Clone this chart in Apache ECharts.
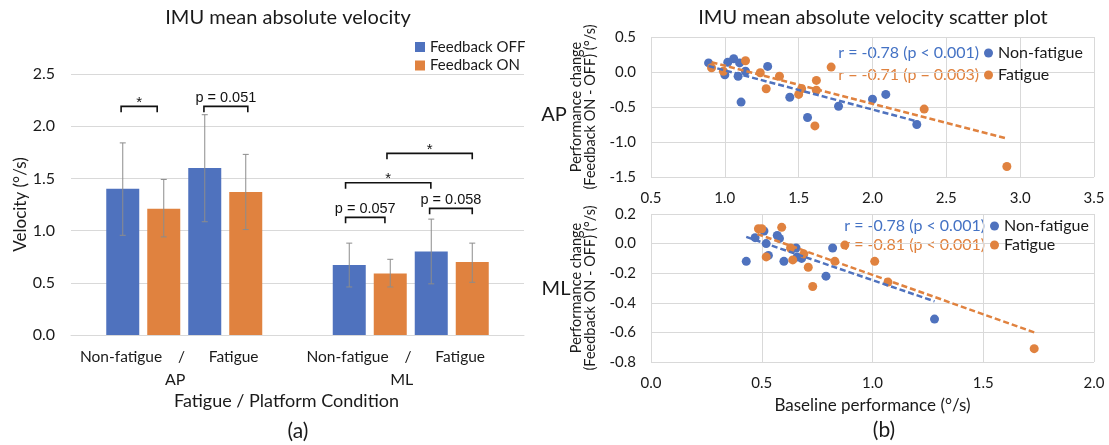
<!DOCTYPE html>
<html><head><meta charset="utf-8">
<script src="https://cdn.jsdelivr.net/npm/echarts@6/dist/echarts.min.js"></script>
<style>html,body{margin:0;padding:0;background:#fff}#c{width:1109px;height:445px}</style>
</head><body><div id="c"></div><script>
// ---------- data ----------
const barCategories = ['AP', 'ML'];
const barYTicks = [0, 0.5, 1.0, 1.5, 2.0, 2.5];
const nonFatigueOff = [1.40, 0.67];
const nonFatigueOn  = [1.21, 0.59];
const fatigueOff    = [1.60, 0.80];
const fatigueOn     = [1.37, 0.70];
// error bars [low, high] per category
const nonFatigueOffErr = [[0.955, 1.84], [0.46, 0.88]];
const nonFatigueOnErr  = [[0.94, 1.49], [0.46, 0.725]];
const fatigueOffErr    = [[1.085, 2.11], [0.49, 1.11]];
const fatigueOnErr     = [[1.01, 1.73], [0.505, 0.88]];
// significance brackets: [category, from bar slot, to bar slot, top value]
const bracketPos = [[0, -0.04, 0.84, 2.19], [0, 1.98, 3.05, 2.19], [1, -0.09, 0.87, 1.127], [1, 1.96, 3.0, 1.213], [1, -0.09, 1.99, 1.459], [1, 0.92, 3.0, 1.74]];
const bracketText = ['*', 'p = 0.051', 'p = 0.057', 'p = 0.058', '*', '*'];

const apNonFatigue = [[0.89,0.13],[1.00,-0.04],[1.02,0.14],[1.06,0.19],[1.09,-0.06],[1.10,0.13],[1.14,0.01],[1.11,-0.43],[1.29,0.08],[1.44,-0.36],[1.56,-0.65],[1.77,-0.49],[2.00,-0.39],[2.09,-0.32],[2.30,-0.75]];
const apFatigue = [[0.91,0.06],[0.99,0.01],[1.14,0.16],[1.24,-0.01],[1.28,-0.24],[1.37,-0.06],[1.50,-0.32],[1.52,-0.24],[1.62,-0.12],[1.62,-0.26],[1.61,-0.77],[1.72,0.07],[2.35,-0.53],[2.91,-1.35]];
const apNonFatigueTrend = [[0.89,0.085],[2.31,-0.71]];
const apFatigueTrend = [[0.91,0.14],[2.91,-0.95]];
const mlNonFatigue = [[0.43,-0.12],[0.47,0.04],[0.51,0.085],[0.52,0.0],[0.53,-0.08],[0.57,0.055],[0.58,0.035],[0.60,-0.12],[0.655,-0.03],[0.66,-0.09],[0.68,-0.10],[0.79,-0.22],[0.82,-0.03],[1.28,-0.51]];
const mlFatigue = [[0.485,0.10],[0.50,0.10],[0.52,-0.09],[0.59,0.11],[0.63,-0.03],[0.64,-0.11],[0.69,-0.07],[0.71,-0.16],[0.73,-0.29],[0.83,-0.12],[0.875,-0.01],[1.01,-0.12],[1.07,-0.26],[1.73,-0.71]];
const mlNonFatigueTrend = [[0.43,0.045],[1.28,-0.39]];
const mlFatigueTrend = [[0.48,0.065],[1.73,-0.60]];
const apStats = ['r = -0.78 (p < 0.001)', 'r = -0.71 (p = 0.003)'];
const mlStats = ['r = -0.78 (p < 0.001)', 'r = -0.81 (p < 0.001)'];

// ---------- style ----------
const F = 'Lato';
const BLUE = '#4f72be', ORANGE = '#e0823f', TXT = '#1a1a1a', GRID = '#d9d9d9';
const BAR_W = 33, SLOT = 41;

function errRender(slot) {
  return function (params, api) {
    const lo = api.coord([api.value(0), api.value(1)]);
    const hi = api.coord([api.value(0), api.value(2)]);
    const x = lo[0] + (slot - 1.5) * SLOT;
    const st = { stroke: '#8c8c8c', lineWidth: 1 };
    return { type: 'group', children: [
      { type: 'line', shape: { x1: x, y1: lo[1], x2: x, y2: hi[1] }, style: st },
      { type: 'line', shape: { x1: x - 3, y1: hi[1], x2: x + 3, y2: hi[1] }, style: st },
      { type: 'line', shape: { x1: x - 3, y1: lo[1], x2: x + 3, y2: lo[1] }, style: st }
    ]};
  };
}
function errSeries(slot, arr) {
  return { type: 'custom', xAxisIndex: 0, yAxisIndex: 0, renderItem: errRender(slot),
    encode: { x: 0, y: [1, 2] }, data: arr.map((d, i) => [i, d[0], d[1]]), z: 5, silent: true };
}
function bracketRender(params, api) {
  const p = api.coord([api.value(0), api.value(3)]);
  const x1 = p[0] + (api.value(1) - 1.5) * SLOT, x2 = p[0] + (api.value(2) - 1.5) * SLOT, y = p[1];
  const t = bracketText[params.dataIndex];
  const star = t === '*';
  return { type: 'group', children: [
    { type: 'polyline', shape: { points: [[x1, y + 6], [x1, y], [x2, y], [x2, y + 6]] }, style: { stroke: '#111', lineWidth: 1.6, fill: null } },
    { type: 'text', x: (x1 + x2) / 2, y: star ? y + 4 : y - 1, style: { text: t, align: 'center', verticalAlign: 'bottom', font: (star ? '15px' : '14.5px') + ' "Liberation Sans"', fill: '#111' } }
  ]};
}
function gtext(text, x, y, size, color, align) {
  return { type: 'text', x: x, y: y, style: { text: text, font: size + 'px ' + F, fill: color || TXT,
    align: align || 'center', verticalAlign: 'middle', textAlign: align || 'center', textVerticalAlign: 'middle' } };
}
const fmt1 = v => v.toFixed(1);
const tickLabel = { fontFamily: F, fontSize: 15, color: TXT };

const option = {
  animation: false,
  textStyle: { fontFamily: F },
  grid: [
    { left: 71, right: 585, top: 74, bottom: 110 },
    { left: 651, right: 15, top: 37, bottom: 268 },
    { left: 651, right: 15, top: 214, bottom: 83 }
  ],
  legend: [
    { data: ['Feedback OFF', 'Feedback ON'], orient: 'vertical', left: 415, top: 39, padding: 0, itemGap: 2.5,
      itemWidth: 10, itemHeight: 10, icon: 'rect', textStyle: { fontFamily: F, fontSize: 15, color: TXT, lineHeight: 16 } },
    { data: ['Non-fatigue', 'Fatigue'], orient: 'vertical', left: 984, top: 44, padding: 0, itemGap: 4,
      itemWidth: 9, itemHeight: 9, icon: 'circle', textStyle: { fontFamily: F, fontSize: 16, color: TXT, lineHeight: 18 } },
    { data: ['Non-fatigue', 'Fatigue'], orient: 'vertical', left: 990, top: 217, padding: 0, itemGap: 1,
      itemWidth: 9, itemHeight: 9, icon: 'circle', textStyle: { fontFamily: F, fontSize: 16, color: TXT, lineHeight: 18 } }
  ],
  xAxis: [
    { type: 'category', gridIndex: 0, data: barCategories, axisTick: { show: false },
      axisLine: { show: true, lineStyle: { color: GRID } },
      name: 'Fatigue / Platform Condition', nameLocation: 'middle', nameGap: 57,
      nameTextStyle: { fontFamily: F, fontSize: 18, color: TXT, padding: [0, 22, 0, 0] },
      axisLabel: { margin: 10, color: TXT, formatter: v => '{l|Non-fatigue    /      Fatigue}\n{m|' + v + '}',
        rich: { l: { fontFamily: F, fontSize: 15.5, color: TXT, lineHeight: 23, padding: [0, 30, 0, 0] },
                m: { fontFamily: F, fontSize: 16, color: TXT, lineHeight: 23, padding: [0, 18, 0, 0] } } } },
    { type: 'value', gridIndex: 1, min: 0.5, max: 3.5, interval: 0.5, axisLine: { show: false }, axisTick: { show: false },
      splitLine: { lineStyle: { color: GRID } }, axisLabel: Object.assign({ margin: 14, formatter: fmt1 }, tickLabel) },
    { type: 'value', gridIndex: 2, min: 0, max: 2, interval: 0.5, axisLine: { show: false }, axisTick: { show: false },
      splitLine: { lineStyle: { color: GRID } }, axisLabel: Object.assign({ margin: 14, formatter: fmt1 }, tickLabel),
      name: 'Baseline performance (°/s)', nameLocation: 'middle', nameGap: 35,
      nameTextStyle: { fontFamily: F, fontSize: 17, color: TXT } }
  ],
  yAxis: [
    { type: 'value', gridIndex: 0, min: barYTicks[0], max: barYTicks[barYTicks.length - 1], interval: 0.5,
      axisLine: { show: false }, axisTick: { show: false }, splitLine: { lineStyle: { color: GRID } },
      axisLabel: Object.assign({ margin: 16, formatter: fmt1 }, tickLabel, { fontSize: 16 }),
      name: 'Velocity (°/s)', nameLocation: 'middle', nameRotate: 90, nameGap: 42,
      nameTextStyle: { fontFamily: F, fontSize: 17, color: TXT } },
    { type: 'value', gridIndex: 1, min: -1.5, max: 0.5, interval: 0.5, axisLine: { show: false }, axisTick: { show: false },
      splitLine: { lineStyle: { color: GRID } }, axisLabel: Object.assign({ margin: 15, formatter: fmt1 }, tickLabel),
      name: 'Performance change\n(Feedback ON - OFF) (°/s)', nameLocation: 'middle', nameRotate: 90, nameGap: 54,
      nameTextStyle: { fontFamily: F, fontSize: 14.5, color: TXT, lineHeight: 14 } },
    { type: 'value', gridIndex: 2, min: -0.8, max: 0.2, interval: 0.2, axisLine: { show: false }, axisTick: { show: false },
      splitLine: { lineStyle: { color: GRID } }, axisLabel: Object.assign({ margin: 15, formatter: fmt1 }, tickLabel),
      name: 'Performance change\n(Feedback ON - OFF) (°/s)', nameLocation: 'middle', nameRotate: 90, nameGap: 54,
      nameTextStyle: { fontFamily: F, fontSize: 14.5, color: TXT, lineHeight: 14 } }
  ],
  series: [
    { type: 'bar', name: 'Feedback OFF', data: nonFatigueOff, barWidth: BAR_W, barGap: (100 * (SLOT - BAR_W) / BAR_W) + '%', itemStyle: { color: BLUE } },
    { type: 'bar', name: 'Feedback ON', data: nonFatigueOn, barWidth: BAR_W, barGap: (100 * (SLOT - BAR_W) / BAR_W) + '%', itemStyle: { color: ORANGE } },
    { type: 'bar', name: 'Feedback OFF', data: fatigueOff, barWidth: BAR_W, barGap: (100 * (SLOT - BAR_W) / BAR_W) + '%', itemStyle: { color: BLUE } },
    { type: 'bar', name: 'Feedback ON', data: fatigueOn, barWidth: BAR_W, barGap: (100 * (SLOT - BAR_W) / BAR_W) + '%', itemStyle: { color: ORANGE } },
    errSeries(0, nonFatigueOffErr), errSeries(1, nonFatigueOnErr), errSeries(2, fatigueOffErr), errSeries(3, fatigueOnErr),
    { type: 'custom', xAxisIndex: 0, yAxisIndex: 0, renderItem: bracketRender, encode: { x: 0, y: 3 }, data: bracketPos, z: 6, silent: true },

    { type: 'scatter', name: 'Non-fatigue', xAxisIndex: 1, yAxisIndex: 1, data: apNonFatigue, symbolSize: 9, itemStyle: { color: BLUE, opacity: 1 } },
    { type: 'scatter', name: 'Fatigue', xAxisIndex: 1, yAxisIndex: 1, data: apFatigue, symbolSize: 9, itemStyle: { color: ORANGE, opacity: 1 } },
    { type: 'line', xAxisIndex: 1, yAxisIndex: 1, data: apNonFatigueTrend, symbol: 'none', lineStyle: { color: BLUE, width: 2.5, type: [6, 3] }, z: 3 },
    { type: 'line', xAxisIndex: 1, yAxisIndex: 1, data: apFatigueTrend, symbol: 'none', lineStyle: { color: ORANGE, width: 2.5, type: [6, 3] }, z: 3 },
    { type: 'scatter', name: 'Non-fatigue', xAxisIndex: 2, yAxisIndex: 2, data: mlNonFatigue, symbolSize: 9, itemStyle: { color: BLUE, opacity: 1 } },
    { type: 'scatter', name: 'Fatigue', xAxisIndex: 2, yAxisIndex: 2, data: mlFatigue, symbolSize: 9, itemStyle: { color: ORANGE, opacity: 1 } },
    { type: 'line', xAxisIndex: 2, yAxisIndex: 2, data: mlNonFatigueTrend, symbol: 'none', lineStyle: { color: BLUE, width: 2.5, type: [6, 3] }, z: 3 },
    { type: 'line', xAxisIndex: 2, yAxisIndex: 2, data: mlFatigueTrend, symbol: 'none', lineStyle: { color: ORANGE, width: 2.5, type: [6, 3] }, z: 3 }
  ],
  graphic: [
    gtext('IMU mean absolute velocity', 288, 18, 20),
    gtext('IMU mean absolute velocity scatter plot', 873, 18, 20),
    gtext('(a)', 298, 431, 21),
    gtext('(b)', 884, 430, 21),
    gtext('AP', 554, 115, 20),
    gtext('ML', 556, 289, 20),
    gtext(apStats[0], 979, 53, 16, '#4472c4', 'right'),
    gtext(apStats[1], 979, 75, 16, ORANGE, 'right'),
    gtext(mlStats[0], 985, 226, 16, '#4472c4', 'right'),
    gtext(mlStats[1], 985, 245, 16, ORANGE, 'right')
  ]
};
const chart = echarts.init(document.getElementById('c'), null, { renderer: 'canvas' });
chart.setOption(option);
</script></body></html>
